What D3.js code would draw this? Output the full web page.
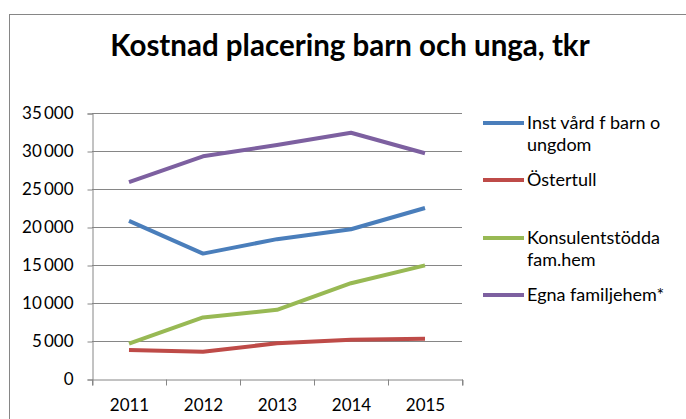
<html>
<head>
<meta charset="utf-8">
<script src="https://d3js.org/d3.v7.min.js"></script>
<style>
body { margin: 0; background: #fff; }
text { font-family: Lato, "Open Sans", sans-serif; fill: #000; }
</style>
</head>
<body>
<script>
var years = ["2011", "2012", "2013", "2014", "2015"];
var names = ["Inst vård f barn o ungdom", "Östertull", "Konsulentstödda fam.hem", "Egna familjehem*"];
var inst = [20800, 16500, 18400, 19700, 22500];
var ostertull = [3800, 3600, 4700, 5150, 5300];
var konsulent = [4650, 8100, 9100, 12600, 14950];
var egna = [25900, 29300, 30800, 32400, 29700];
var colors = ["#4a7ebb", "#be4b48", "#98b954", "#7d60a0"];
var yTicks = [0, 5000, 10000, 15000, 20000, 25000, 30000, 35000];

var series = [inst, ostertull, konsulent, egna];

var width = 686, height = 419;
var svg = d3.select("body").append("svg")
    .attr("width", width)
    .attr("height", height);

// chart frame
svg.append("rect")
    .attr("x", 9.5).attr("y", 14.5)
    .attr("width", 700).attr("height", 420)
    .attr("fill", "#fff")
    .attr("stroke", "#868686");

svg.append("text")
    .attr("x", 350).attr("y", 56)
    .attr("text-anchor", "middle")
    .style("font-size", "29.5px")
    .style("font-weight", "bold")
    .text("Kostnad placering barn och unga, tkr");

var x = d3.scaleBand().domain(years).range([92, 462]);
var y = d3.scaleLinear().domain([0, 35000]).range([379, 113]);

// gridlines
svg.append("g").selectAll("line")
    .data(yTicks.slice(1))
    .enter().append("line")
    .attr("x1", 92).attr("x2", 462)
    .attr("y1", function(d) { return Math.round(y(d)) + 0.5; })
    .attr("y2", function(d) { return Math.round(y(d)) + 0.5; })
    .attr("stroke", "#868686");

var yAxis = svg.append("g")
    .attr("transform", "translate(92.5,0.5)")
    .call(d3.axisLeft(y).tickValues(yTicks).tickSize(5).tickPadding(14)
        .tickFormat(function(d) { return d3.format(",")(d).replace(",", "\u2009"); }));
var xAxis = svg.append("g")
    .attr("transform", "translate(0.5,379.5)")
    .call(d3.axisBottom(x).tickSize(6).tickPadding(13).tickSizeOuter(6));

// ticks sit on the band edges, not the centres
xAxis.selectAll(".tick line").remove();
xAxis.selectAll("line.edge")
    .data(d3.range(years.length + 1))
    .enter().append("line")
    .attr("class", "edge")
    .attr("x1", function(i) { return 92 + i * x.bandwidth(); })
    .attr("x2", function(i) { return 92 + i * x.bandwidth(); })
    .attr("y1", 0).attr("y2", 6)
    .attr("stroke", "#868686");

[yAxis, xAxis].forEach(function(a) {
    a.select(".domain").attr("stroke", "#868686");
    a.selectAll("line").attr("stroke", "#868686");
    a.selectAll("text").style("font-size", "17px").style("font-family", "Lato, sans-serif").attr("fill", "#000");
});

var line = d3.line()
    .x(function(d, i) { return x(years[i]) + x.bandwidth() / 2; })
    .y(function(d) { return y(d); });

svg.append("g").selectAll("path")
    .data(series)
    .enter().append("path")
    .attr("d", line)
    .attr("fill", "none")
    .attr("stroke", function(d, i) { return colors[i]; })
    .attr("stroke-width", 4)
    .attr("stroke-linejoin", "round");

// legend
var legendRows = [
    { lines: ["Inst vård f barn o", "ungdom"], y: 123 },
    { lines: ["Östertull"], y: 180 },
    { lines: ["Konsulentstödda", "fam.hem"], y: 238 },
    { lines: ["Egna familjehem*"], y: 295 }
];
var lg = svg.append("g").selectAll("g")
    .data(legendRows)
    .enter().append("g");
lg.append("line")
    .attr("x1", 483).attr("x2", 524)
    .attr("y1", function(d) { return d.y; })
    .attr("y2", function(d) { return d.y; })
    .attr("stroke", function(d, i) { return colors[i]; })
    .attr("stroke-width", 4);
lg.append("text")
    .attr("x", 527)
    .attr("y", function(d) { return d.y + 6; })
    .style("font-size", "18px")
    .selectAll("tspan")
    .data(function(d) { return d.lines; })
    .enter().append("tspan")
    .attr("x", 527)
    .attr("dy", function(d, i) { return i ? 22 : 0; })
    .text(function(d) { return d; });
</script>
</body>
</html>
